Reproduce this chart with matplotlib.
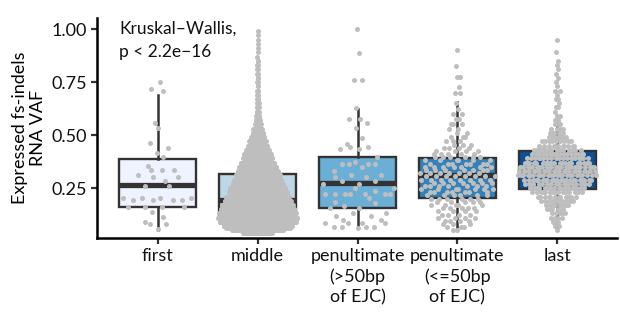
import numpy as np
import matplotlib
matplotlib.use("Agg")
import matplotlib.pyplot as plt

plt.rcParams['font.family'] = ['Lato', 'DejaVu Sans']

# categories and box colours (Brewer Blues)
categories = ["first", "middle", "penultimate\n(>50bp\nof EJC)",
              "penultimate\n(<=50bp\nof EJC)", "last"]
box_colors = ["#EFF3FF", "#BDD7E7", "#6BAED6", "#3182BD", "#08519C"]

# box statistics
q1 = [0.160, 0.113, 0.156, 0.203, 0.245]
med = [0.264, 0.193, 0.274, 0.311, 0.325]
q3 = [0.387, 0.316, 0.396, 0.392, 0.425]
whis_lo = [0.052, 0.045, 0.060, 0.055, 0.050]
whis_hi = [0.689, 0.620, 0.623, 0.656, 0.585]

# individual points (small groups)
first_vals = [0.749, 0.716, 0.710, 0.555, 0.532, 0.464, 0.437, 0.414, 0.395,
              0.354, 0.335, 0.335, 0.335, 0.311, 0.300, 0.300, 0.283, 0.261,
              0.261, 0.201, 0.201, 0.201, 0.201, 0.193, 0.193, 0.193, 0.193,
              0.162, 0.162, 0.162, 0.162, 0.135, 0.115, 0.088, 0.079, 0.079,
              0.055]
penult_far_vals = [0.999, 0.885, 0.759, 0.759, 0.626, 0.574, 0.574, 0.558,
                   0.532, 0.484, 0.458, 0.445, 0.445, 0.432, 0.432, 0.398,
                   0.374, 0.362, 0.362, 0.362, 0.362, 0.350, 0.332, 0.311,
                   0.311, 0.300, 0.300, 0.283, 0.283, 0.269, 0.269, 0.249,
                   0.249, 0.237, 0.222, 0.222, 0.222, 0.222, 0.222, 0.222,
                   0.222, 0.201, 0.185, 0.181, 0.167, 0.154, 0.154, 0.131,
                   0.131, 0.118, 0.118, 0.099, 0.099, 0.086, 0.086, 0.086,
                   0.086, 0.067, 0.067, 0.067, 0.067, 0.060]

# binned counts (large groups): VAF bin value -> number of points
middle_bins = [0.04, 0.05, 0.06, 0.07, 0.09, 0.11, 0.13, 0.15, 0.17, 0.19,
               0.21, 0.23, 0.25, 0.27, 0.29, 0.31, 0.33, 0.35, 0.37, 0.39,
               0.41, 0.43, 0.45, 0.47, 0.49, 0.51, 0.53, 0.55, 0.57, 0.59,
               0.61, 0.63, 0.65, 0.67, 0.69, 0.71, 0.73, 0.75, 0.77, 0.79,
               0.81, 0.83, 0.85, 0.87, 0.89, 0.91, 0.93, 0.95, 0.97, 0.99]
middle_counts = [20, 55, 70, 80, 140, 138, 132, 126, 120, 114,
                 108, 100, 94, 88, 82, 76, 70, 64, 58, 52,
                 46, 40, 34, 29, 24, 19, 15, 11, 8, 6,
                 5, 4, 4, 3, 3, 3, 2, 2, 2, 2,
                 2, 2, 2, 1, 1, 1, 1, 1, 1, 1]

penult_near_bins = [0.050, 0.065, 0.080, 0.095, 0.110, 0.125, 0.140, 0.155,
                    0.170, 0.185, 0.200, 0.215, 0.230, 0.245, 0.260, 0.275,
                    0.290, 0.305, 0.320, 0.335, 0.350, 0.365, 0.380, 0.395,
                    0.410, 0.425, 0.440, 0.455, 0.470, 0.490, 0.510, 0.530,
                    0.550, 0.575, 0.600, 0.625, 0.650, 0.700, 0.725, 0.775,
                    0.825, 0.900]
penult_near_counts = [2, 3, 3, 4, 4, 4, 4, 5, 5, 5, 6, 6, 7, 7, 7, 7,
                      8, 8, 7, 7, 7, 7, 6, 6, 5, 4, 4, 3, 3, 3, 2, 2,
                      3, 2, 2, 1, 1, 2, 1, 2, 1, 1]

last_bins = [0.05, 0.07, 0.09, 0.11, 0.13, 0.15, 0.17, 0.19, 0.21, 0.23,
             0.25, 0.27, 0.29, 0.31, 0.33, 0.35, 0.37, 0.39, 0.41, 0.43,
             0.45, 0.47, 0.49, 0.51, 0.53, 0.55, 0.57, 0.59, 0.61, 0.63,
             0.65, 0.67, 0.69, 0.71, 0.73, 0.75, 0.77, 0.79, 0.81, 0.83,
             0.85, 0.89, 0.95]
last_counts = [1, 2, 3, 4, 5, 6, 8, 10, 12, 15, 18, 20, 22, 24, 24, 23, 21,
               19, 17, 14, 11, 9, 7, 5, 4, 3, 2, 2, 1, 2, 1, 2, 1, 2, 1, 1,
               1, 1, 1, 1, 1, 1, 1]

groups = [np.array(first_vals),
          np.repeat(middle_bins, middle_counts),
          np.array(penult_far_vals),
          np.repeat(penult_near_bins, penult_near_counts),
          np.repeat(last_bins, last_counts)]


def van_der_corput(n):
    out = np.zeros(n)
    for i in range(n):
        k, f, v = i + 1, 0.5, 0.0
        while k > 0:
            v += f * (k % 2)
            k //= 2
            f /= 2
        out[i] = v
    return out


def quasirandom_offsets(y, width=0.4, adjust=0.5):
    # like ggbeeswarm::geom_quasirandom
    n = len(y)
    sd = np.std(y, ddof=1)
    iqr = np.subtract(*np.percentile(y, [75, 25]))
    bw = 0.9 * min(sd, iqr / 1.34) * n ** -0.2 * adjust
    grid = np.linspace(y.min() - 3 * bw, y.max() + 3 * bw, 512)
    dens = np.exp(-0.5 * ((grid[:, None] - y[None, :]) / bw) ** 2).sum(axis=1)
    dens = dens / dens.max()
    d_at = np.interp(y, grid, dens)
    ranks = np.argsort(np.argsort(y, kind="stable"), kind="stable")
    vdc = van_der_corput(n)[ranks]
    return (vdc - 0.5) * 2 * d_at * width


fig = plt.figure(figsize=(6.2, 3.15), dpi=100)
ax = fig.add_axes([0.1565, 0.2444, 0.8387, 0.6984])

positions = np.arange(1, len(categories) + 1)
stats = []
for i in range(len(categories)):
    stats.append(dict(med=med[i], q1=q1[i], q3=q3[i],
                      whislo=whis_lo[i], whishi=whis_hi[i], fliers=[]))

edge = "#333333"
bp = ax.bxp(stats, positions=positions, widths=0.77, patch_artist=True,
            showcaps=False, showfliers=False,
            boxprops=dict(linewidth=1.7, edgecolor=edge),
            whiskerprops=dict(linewidth=1.8, color=edge),
            medianprops=dict(linewidth=3.8, color=edge, solid_capstyle="butt"))
for patch, c in zip(bp["boxes"], box_colors):
    patch.set_facecolor(c)

for pos, vals in zip(positions, groups):
    xs = pos + quasirandom_offsets(vals)
    ax.scatter(xs, vals, s=13, color="#BEBEBE", linewidths=0, zorder=3)

ax.text(0.61, 1.04, "Kruskal\u2013Wallis,\np < 2.2e\u221216", fontsize=12.5,
        va="top", ha="left", linespacing=1.55, color="#111111")

ax.set_xlim(0.39, 5.6)
ax.set_ylim(0.0142, 1.052)
ax.set_yticks([0.25, 0.50, 0.75, 1.00])
ax.set_yticklabels(["0.25", "0.50", "0.75", "1.00"])
ax.set_xticks(positions)
ax.set_xticklabels(categories, linespacing=1.35)
ax.set_ylabel("Expressed fs-indels\nRNA VAF", fontsize=13, labelpad=4,
              linespacing=1.2)

for side in ["top", "right"]:
    ax.spines[side].set_visible(False)
for side in ["left", "bottom"]:
    ax.spines[side].set_linewidth(1.8)
    ax.spines[side].set_color("black")
ax.tick_params(axis="both", length=4, width=1.6, color="#333333",
               labelsize=13, labelcolor="#111111", pad=3)

fig.savefig("out.png", dpi=100)
